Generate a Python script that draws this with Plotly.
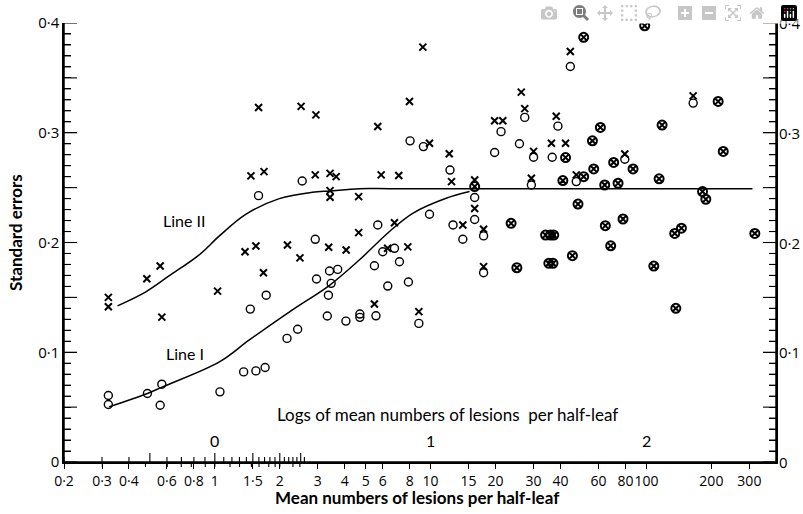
import math
import plotly.graph_objects as go

# ---- data ----
# crosses (Line II observations)
cross_x = [0.321, 0.321, 0.484, 0.558, 0.568, 1.03, 1.47, 1.69, 2.92, 3.42, 3.65, 3.42, 3.42,
           4.64, 1.38, 1.55, 2.17, 2.48, 3.37, 4.06, 4.64, 1.68, 5.49,
           1.595, 2.51, 2.94, 5.69,
           9.2, 7.98, 9.88, 5.9, 7.12, 12.2, 12.5, 16.0, 16.0, 6.8, 14.1, 17.6, 17.6,
           6.32, 7.84, 19.8, 21.6, 26.3, 27.3, 30.0, 29.3, 36.3, 42.2, 38.2, 47.3, 44.4,
           79.4, 164.7, 8.82]
cross_y = [0.150, 0.1415, 0.167, 0.1786, 0.132, 0.1557, 0.2607, 0.2646, 0.2616, 0.263, 0.260, 0.2473, 0.2412,
           0.2418, 0.1916, 0.1968, 0.1977, 0.186, 0.1956, 0.1932, 0.209, 0.1725, 0.1439,
           0.323, 0.324, 0.3163, 0.3057,
           0.378, 0.3285, 0.2905, 0.2616, 0.261, 0.2808, 0.2555, 0.257, 0.231, 0.218, 0.216, 0.212, 0.178,
           0.1947, 0.196, 0.311, 0.311, 0.337, 0.322, 0.283, 0.2585, 0.2905, 0.2905, 0.315, 0.2616, 0.374,
           0.2807, 0.3336, 0.137]

# open circles (Line I observations)
circle_x = [1.594, 2.54, 2.92, 5.69, 6.0, 1.73, 1.46, 3.4, 3.71, 2.96, 3.46, 3.36,
            5.49, 6.33, 3.32, 4.05, 4.7, 4.7, 5.58, 2.16, 2.42, 1.36, 1.55, 1.71, 1.056,
            0.487, 0.568, 0.558, 0.321, 0.321,
            8.03, 9.26, 12.3, 16.0, 16.0, 9.88, 12.7, 14.1, 17.6, 17.6, 6.8, 7.17, 7.89,
            21.2, 19.8, 27.3, 25.8, 30.0, 29.3, 36.6, 38.9, 47.3, 44.4, 79.4, 164.7, 8.82]
circle_y = [0.2427, 0.256, 0.2029, 0.216, 0.1916, 0.152, 0.1393, 0.174, 0.1755, 0.1667, 0.1628, 0.152,
            0.1788, 0.1603, 0.133, 0.1284, 0.1348, 0.1318, 0.1332, 0.1126, 0.121, 0.0821, 0.083, 0.0861, 0.0639,
            0.0624, 0.0709, 0.0517, 0.0606, 0.0524,
            0.2926, 0.2874, 0.266, 0.241, 0.221, 0.2257, 0.216, 0.203, 0.206, 0.1724, 0.1947, 0.1825, 0.164,
            0.301, 0.282, 0.314, 0.290, 0.2777, 0.2524, 0.2777, 0.306, 0.2555, 0.3604, 0.2759, 0.327, 0.1263]

# coincident points (circle with cross)
both_x = [16.0, 23.6, 25.1, 34.1, 35.9, 37.2, 35.3, 36.9, 42.2, 41.0, 51.2, 48.2, 45.4, 51.2,
          61.2, 56.2, 57.0, 64.1, 64.5, 68.3, 70.5, 73.9, 77.9, 86.7, 98.2, 114.5, 118.2, 108.2,
          135.3, 145.3, 182.0, 188.5, 215.0, 227.0, 318.0, 136.9]
both_y = [0.251, 0.2175, 0.177, 0.2068, 0.2068, 0.2068, 0.181, 0.181, 0.2774, 0.2564, 0.260, 0.235, 0.188, 0.387,
          0.3048, 0.2926, 0.267, 0.2524, 0.2153, 0.197, 0.273, 0.254, 0.2214, 0.267, 0.3975, 0.258, 0.307, 0.1785,
          0.2083, 0.213, 0.2464, 0.2394, 0.3285, 0.283, 0.2083, 0.140]

# fitted curves
line1_x = [0.323, 0.487, 0.572, 1.05, 1.44, 2.28, 3.4, 4.67, 6.45, 8.26, 11.8, 15.15]
line1_y = [0.0502, 0.0624, 0.0684, 0.0912, 0.111, 0.1384, 0.161, 0.184, 0.21, 0.2266, 0.2403, 0.2464]
line2_x = [0.354, 0.479, 0.613, 0.849, 1.05, 1.39, 1.99, 2.83, 3.42, 4.67, 6.45, 20.0, 100.0, 310.0]
line2_y = [0.1423, 0.1551, 0.1695, 0.189, 0.2060, 0.2256, 0.2400, 0.2458, 0.247, 0.249, 0.249, 0.249, 0.249, 0.249]

# axis ticks (decimal point printed as a raised dot via layout.separators)
xtick_vals = [0.2, 0.3, 0.4, 0.6, 0.8, 1, 1.5, 2, 3, 4, 5, 6, 8, 10, 15, 20, 30, 40, 60, 80, 100, 200, 300]
log_label_vals = [0, 1, 2]          # logs of mean numbers
log_label_text = ["0", "1", "2"]
y_right_vals = [0, 0.1, 0.2, 0.3, 0.4]
y_right_text = ["0", "0·1", "0·2", "0·3", "0·4"]

X_MIN, X_MAX = 0.2, 398.6
xr = [math.log10(X_MIN), math.log10(X_MAX)]
log_steps = [k / 10 for k in range(-6, 27)]           # upward ticks every 0.1 log unit
y_steps = [i / 100 for i in range(0, 41)]

FONT = "Lato"
TXT = dict(family=FONT, color="black", size=16)
TTL = dict(family=FONT, color="black", size=17)
TICKF = dict(color="black", size=15)

fig = go.Figure()
fig.add_trace(go.Scatter(x=line2_x, y=line2_y, mode="lines",
                         line=dict(color="black", width=1.5, shape="spline", smoothing=1.0)))
fig.add_trace(go.Scatter(x=line1_x, y=line1_y, mode="lines",
                         line=dict(color="black", width=1.5, shape="spline", smoothing=1.0)))
fig.add_trace(go.Scatter(x=circle_x, y=circle_y, mode="markers",
                         marker=dict(symbol="circle-open", size=8, color="black", line=dict(width=1.4, color="black"))))
fig.add_trace(go.Scatter(x=cross_x, y=cross_y, mode="markers",
                         marker=dict(symbol="x-thin-open", size=7, color="black", line=dict(width=2, color="black"))))
fig.add_trace(go.Scatter(x=both_x, y=both_y, mode="markers",
                         marker=dict(symbol="circle-x-open", size=9, color="black", line=dict(width=2, color="black"))))

fig.add_annotation(x=math.log10(0.72), y=0.2196, xref="x", yref="y", text="Line II", showarrow=False, font=TXT)
fig.add_annotation(x=math.log10(0.73), y=0.0992, xref="x", yref="y", text="Line I", showarrow=False, font=TXT)
fig.add_annotation(x=1.08, y=0.0435, xref="x", yref="y", text="Logs of mean numbers of lesions  per half-leaf",
                   showarrow=False, font=TTL)
for v, t in zip(log_label_vals, log_label_text):
    fig.add_annotation(x=v, y=0, xref="x", yref="y", yanchor="bottom", yshift=10, text=t,
                       showarrow=False, font=TXT)
for v, t in zip(y_right_vals, y_right_text):
    fig.add_annotation(x=1, y=v, xref="paper", yref="y", xanchor="left", xshift=1, text=t,
                       showarrow=False, font=TICKF)
# axis titles
fig.add_annotation(x=0.496, y=0, xref="paper", yref="paper", yanchor="top", yshift=-23,
                   text="<b>Mean numbers of lesions per half-leaf</b>", showarrow=False, font=TTL)
fig.add_annotation(x=0, y=0.5, xref="paper", yref="paper", xanchor="right", xshift=-36, yshift=10,
                   text="<b>Standard errors</b>", textangle=-90, showarrow=False, font=TTL)

# axis frame and tick marks, placed through the axes' own coordinates
LN = dict(color="black", width=1.5)
TK = dict(color="black", width=1.1)
shapes = [
    dict(type="line", xref="paper", yref="paper", x0=0, x1=1, y0=0, y1=0, line=LN),
    dict(type="line", xref="paper", yref="paper", x0=0, x1=0, y0=0, y1=1, line=LN),
    dict(type="line", xref="paper", yref="paper", x0=1, x1=1, y0=0, y1=1, line=LN),
]
for v in xtick_vals:                       # downward ticks at the labelled values
    lv = math.log10(v)
    shapes.append(dict(type="line", xref="x", yref="paper", ysizemode="pixel", yanchor=0,
                       x0=lv, x1=lv, y0=0, y1=-5, line=TK))
for s in log_steps:                        # upward ticks on the log scale
    long_tick = abs(s * 2 - round(s * 2)) < 1e-9
    shapes.append(dict(type="line", xref="x", yref="paper", ysizemode="pixel", yanchor=0,
                       x0=s, x1=s, y0=0, y1=9 if long_tick else 5, line=TK))
for v in y_steps:                          # inward ticks on both vertical axes
    long_tick = abs(v * 20 - round(v * 20)) < 1e-9
    ln = 13 if long_tick else 7
    shapes.append(dict(type="line", xref="paper", yref="y", xsizemode="pixel", xanchor=0,
                       x0=0, x1=ln, y0=v, y1=v, line=TK))
    shapes.append(dict(type="line", xref="paper", yref="y", xsizemode="pixel", xanchor=1,
                       x0=0, x1=-ln, y0=v, y1=v, line=TK))

fig.update_layout(
    width=803, height=514,
    margin=dict(l=64, r=27, t=23, b=52),
    separators="·,",
    paper_bgcolor="white", plot_bgcolor="white", showlegend=False,
    shapes=shapes,
    xaxis=dict(type="log", range=xr, showline=True, linewidth=1.5, linecolor="black",
               ticks="outside", ticklen=5, tickwidth=1.1, tickcolor="black", tickangle=0,
               tickmode="array", tickvals=xtick_vals, tickfont=dict(color="black", size=14),
               showgrid=False),
    yaxis=dict(range=[0, 0.4], showline=True, linewidth=1.5, linecolor="black", mirror="ticks",
               ticks="inside", ticklen=13, tickwidth=1.1, tickcolor="black",
               dtick=0.1, tick0=0, tickfont=TICKF,
               showgrid=False, zeroline=False,
               minor=dict(dtick=0.01, tick0=0, ticks="inside", ticklen=7, tickwidth=1,
                          tickcolor="black", showgrid=False)),
)

fig.write_html("out.html", post_script="document.body.style.margin='0';")
